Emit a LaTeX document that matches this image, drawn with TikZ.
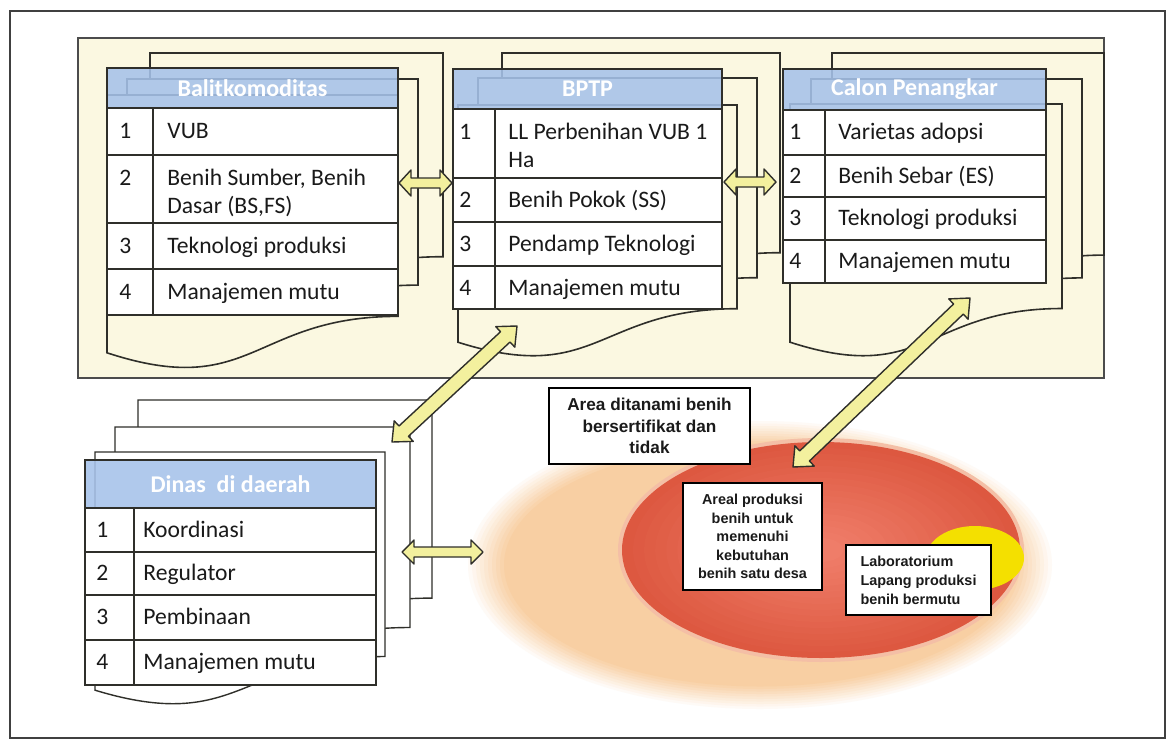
\documentclass[tikz,border=0pt]{standalone}
\usepackage{fontspec}
\setmainfont{Carlito}
\newfontfamily\arialf{Liberation Sans}
\usetikzlibrary{calc}
\definecolor{panel}{HTML}{FBF8E1}
\definecolor{hdr}{HTML}{A6C2EA}
\definecolor{lineC}{HTML}{2F2F2A}
\definecolor{txtC}{HTML}{1A1A1A}
\definecolor{arrowC}{HTML}{F3F09E}
\definecolor{glow}{HTML}{F8CFA3}
\definecolor{redin}{HTML}{EF7D69}
\definecolor{redout}{HTML}{DD5840}
\definecolor{halo}{HTML}{F4BFA6}
\definecolor{yel}{HTML}{F4E000}
\newcommand\tf{\fontsize{11.8}{14}\selectfont}
\newcommand\twol[2]{\vtop{\hbox{#1}\hbox{#2}}}
\newcommand\docsh[5][]{\draw[#1] (#2,#3) -- (#4,#3) -- (#4,{#3+0.802*#5}) .. controls ({(#2+#4)/2},{#3+0.802*#5}) and ({(#2+#4)/2},{#3+1.107*#5}) .. (#2,{#3+0.934*#5}) -- cycle;}
\newcommand\dblarr[5]{%
 \coordinate (da1) at ($(#1)!#5!(#2)$);
 \coordinate (db1) at ($(#2)!#5!(#1)$);
 \draw[bigarrow] (#1) -- ($(da1)!#3!90:(#2)$) -- ($(da1)!#4!90:(#2)$) -- ($(db1)!#4!-90:(#1)$) -- ($(db1)!#3!-90:(#1)$) -- (#2) -- ($(db1)!#3!90:(#1)$) -- ($(db1)!#4!90:(#1)$) -- ($(da1)!#4!-90:(#2)$) -- ($(da1)!#3!-90:(#2)$) -- cycle;}
\tikzset{
 docp/.style={fill=panel, draw=lineC, line width=0.8pt},
 docw/.style={fill=white, draw=lineC, line width=0.7pt},
 hdrbox/.style={fill=hdr, fill opacity=0.88, draw=lineC, line width=0.8pt},
 hdrtxt/.style={text=white, font=\bfseries\fontsize{12}{14}\selectfont, inner sep=0},
 tbox/.style={fill=white, draw=lineC, line width=0.8pt},
 tline/.style={draw=lineC, line width=0.8pt},
 num/.style={anchor=base west, inner sep=0, font=\tf, text=txtC},
 itm/.style={anchor=base west, inner sep=0, font=\tf, text=txtC},
 bigarrow/.style={fill=arrowC, draw=lineC, line width=0.7pt, line join=round},
 tbx/.style={fill=white, draw=black, line width=0.8pt, inner sep=0, text=txtC}
}
\begin{document}
\begin{tikzpicture}[x=0.5pt, y=-0.5pt]
\useasboundingbox (0,0) rectangle (1169,751);
\fill[white] (0,0) rectangle (1169,751);
\draw[line width=1pt, draw=black!75] (10,11) rectangle (1165,738);
% top panel
\draw[fill=panel, draw=black!70, line width=0.9pt] (78,38) rectangle (1104,378);
% documents behind Balitkomoditas
\docsh[docp]{150}{53}{443}{254}
\docsh[docp]{127}{79}{418}{257}
\docsh[docp]{107}{95}{398}{276}
% documents behind BPTP
\docsh[docp]{502}{53}{780}{249}
\docsh[docp]{478}{78}{757}{249}
\docsh[docp]{458}{105}{737}{254}
% documents behind Calon Penangkar
\docsh[docp]{832}{53}{1104}{252}
\docsh[docp]{811}{79}{1082}{248}
\docsh[docp]{790}{104}{1062}{255}
% documents behind Dinas
\docsh[docw]{138}{400}{432}{247}
\docsh[docw]{115}{427}{410}{250}
\docsh[docw]{95}{452}{385}{255}

% Balitkomoditas table
\draw[hdrbox] (107,68) rectangle (398,108);
\node[hdrtxt] (bH) at (252.5,88.5) {Balitkomoditas};
\draw[tbox] (107,108) rectangle (398,315);
\draw[tline] (107,155) -- (398,155) (107,223) -- (398,223) (107,269) -- (398,269) (153,108) -- (153,315);
\node[num] (bn1) at (119,138) {1};
\node[itm] (bt1) at (167,138) {VUB};
\node[num] (bn2) at (119,185) {2};
\node[itm] (bt2) at (167,185) {\twol{Benih Sumber, Benih}{Dasar (BS,FS)}};
\node[num] (bn3) at (119,253) {3};
\node[itm] (bt3) at (167,253) {Teknologi produksi};
\node[num] (bn4) at (119,299) {4};
\node[itm] (bt4) at (167,299) {Manajemen mutu};

% BPTP table
\draw[hdrbox] (453,69) rectangle (722,109);
\node[hdrtxt] (pH) at (587.5,89) {BPTP};
\draw[tbox] (453,109) rectangle (722,309);
\draw[tline] (453,178) -- (722,178) (453,222) -- (722,222) (453,266) -- (722,266) (495,109) -- (495,309);
\node[num] (pn1) at (459,139) {1};
\node[itm] (pt1) at (508,139) {\twol{LL Perbenihan VUB 1}{Ha}};
\node[num] (pn2) at (459,207) {2};
\node[itm] (pt2) at (508,207) {Benih Pokok (SS)};
\node[num] (pn3) at (459,251) {3};
\node[itm] (pt3) at (508,251) {Pendamp Teknologi};
\node[num] (pn4) at (459,295) {4};
\node[itm] (pt4) at (508,295) {Manajemen mutu};

% Calon Penangkar table
\draw[hdrbox] (783,69) rectangle (1046,110);
\node[hdrtxt] (cH) at (914.5,89.5) {Calon Penangkar};
\draw[tbox] (783,110) rectangle (1046,283);
\draw[tline] (783,155) -- (1046,155) (783,197) -- (1046,197) (783,240) -- (1046,240) (825,110) -- (825,283);
\node[num] (cn1) at (789,139) {1};
\node[itm] (ct1) at (838,139) {Varietas adopsi};
\node[num] (cn2) at (789,183) {2};
\node[itm] (ct2) at (838,183) {Benih Sebar (ES)};
\node[num] (cn3) at (789,225) {3};
\node[itm] (ct3) at (838,225) {Teknologi produksi};
\node[num] (cn4) at (789,268) {4};
\node[itm] (ct4) at (838,268) {Manajemen mutu};

% Dinas table
\draw[hdrbox] (85,460) rectangle (376,508);
\node[hdrtxt] (dH) at (230.5,484) {Dinas\ \ di daerah};
\draw[tbox] (85,508) rectangle (376,685);
\draw[tline] (85,552) -- (376,552) (85,595) -- (376,595) (85,640) -- (376,640) (134,508) -- (134,685);
\node[num] (dn1) at (96,537) {1};
\node[itm] (dt1) at (143,537) {Koordinasi};
\node[num] (dn2) at (96,580) {2};
\node[itm] (dt2) at (143,580) {Regulator};
\node[num] (dn3) at (96,624) {3};
\node[itm] (dt3) at (143,624) {Pembinaan};
\node[num] (dn4) at (96,669) {4};
\node[itm] (dt4) at (143,669) {Manajemen mutu};

% area ellipses: soft outer glow built from concentric layers
\foreach \i [evaluate=\i as \p using int(\i*10)] in {1,...,10}
  \fill[glow!\p!white] (760,565) ellipse [x radius={292-(\i-1)*4}, y radius={144-(\i-1)*2.5}];
% halo and red field
\fill[halo] (821,550) ellipse [x radius=203, y radius=112];
\foreach \i [evaluate=\i as \p using int(\i*100/16)] in {0,...,16}
  \fill[redin!\p!redout] (821,550) ellipse [x radius={199*(1-\i/18)}, y radius={108*(1-\i/18)}];
\fill[yel] (975,558) ellipse [x radius=49, y radius=32];

\node[tbx, minimum width=201*0.5pt, minimum height=76*0.5pt, align=center, font=\arialf\bfseries\fontsize{8.6}{10.8}\selectfont] (area) at (649.5,426) {Area ditanami benih\\bersertifikat dan\\tidak};
\node[tbx, minimum width=139*0.5pt, minimum height=107*0.5pt, align=center, font=\arialf\bfseries\fontsize{7.2}{9.3}\selectfont] (areal) at (752.5,536.5) {Areal produksi\\benih untuk\\memenuhi\\kebutuhan\\benih satu desa};
\node[tbx, minimum width=145*0.5pt, minimum height=70*0.5pt, align=left, font=\arialf\bfseries\fontsize{7.2}{9.5}\selectfont] (lab) at (918.5,580) {Laboratorium\\Lapang produksi\\benih bermutu};

% arrows
\coordinate (a1a) at (399,183);
\coordinate (a1b) at (452,183);
\coordinate (a2a) at (724,182);
\coordinate (a2b) at (776,182);
\coordinate (a3a) at (517,326);
\coordinate (a3b) at (392,442);
\coordinate (a4a) at (970,298);
\coordinate (a4b) at (793,467);
\coordinate (a5a) at (402,552);
\coordinate (a5b) at (483,552);
\dblarr{a1a}{a1b}{6.5pt}{2.5pt}{6pt}
\dblarr{a2a}{a2b}{6.5pt}{2.5pt}{6pt}
\dblarr{a3a}{a3b}{7pt}{3.5pt}{8pt}
\dblarr{a4a}{a4b}{7pt}{3.5pt}{8pt}
\dblarr{a5a}{a5b}{6pt}{2.5pt}{6pt}
\end{tikzpicture}
\end{document}
